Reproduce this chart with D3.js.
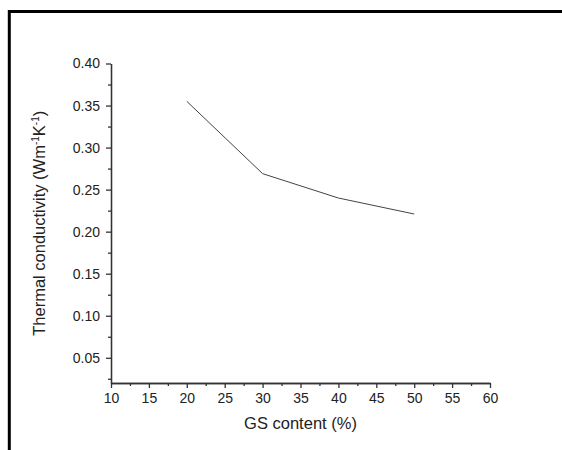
<!DOCTYPE html>
<meta charset="utf-8">
<script src="https://d3js.org/d3.v7.min.js"></script>
<style>
  body { margin: 0; background: #fff; }
  text { font-family: "Liberation Sans", Arial, sans-serif; fill: #222; }
</style>
<div id="my_dataviz"></div>
<script>
    // data
    var gsContent = [20, 30, 40, 50];
    var conductivity = [0.355, 0.269, 0.240, 0.221];
    var xTicks = [10, 15, 20, 25, 30, 35, 40, 45, 50, 55, 60];
    var yTicks = [0.05, 0.10, 0.15, 0.20, 0.25, 0.30, 0.35, 0.40];

    var W = 562, H = 450;
    var margin = { top: 63.5, left: 111, right: 72, bottom: 67 };
    var width = W - margin.left - margin.right,
        height = H - margin.top - margin.bottom;

    var root = d3.select("#my_dataviz")
        .append("svg")
        .attr("width", W)
        .attr("height", H);

    // outer frame (clipped at right and bottom)
    root.append("rect")
        .attr("x", 9.3).attr("y", 11.5)
        .attr("width", 700).attr("height", 600)
        .attr("fill", "none")
        .attr("stroke", "#000")
        .attr("stroke-width", 3);

    var svg = root.append("g")
        .attr("transform", "translate(" + margin.left + "," + margin.top + ")");

    var x = d3.scaleLinear().domain([10, 60]).range([0, width]);
    var y = d3.scaleLinear().domain([0.02, 0.40]).range([height, 0]);

    // minor ticks
    var xMinor = xTicks.slice(0, -1).map(function (d) { return d + 2.5; });
    var yMinor = [0.025].concat(yTicks.slice(0, -1).map(function (d) { return d + 0.025; }));

    svg.append("g")
        .attr("transform", "translate(0," + height + ")")
        .call(d3.axisBottom(x).tickValues(xMinor).tickSize(3).tickFormat("").tickSizeOuter(0));
    svg.append("g")
        .attr("transform", "translate(0," + height + ")")
        .call(d3.axisBottom(x).tickValues(xTicks).tickSize(5).tickSizeOuter(0).tickPadding(5)
            .tickFormat(d3.format("d")));

    svg.append("g")
        .call(d3.axisLeft(y).tickValues(yMinor).tickSize(3).tickFormat("").tickSizeOuter(0));
    svg.append("g")
        .call(d3.axisLeft(y).tickValues(yTicks).tickSize(5).tickSizeOuter(0).tickPadding(6)
            .tickFormat(d3.format(".2f")));

    svg.selectAll(".domain").attr("stroke", "#333").attr("stroke-width", 1.3);
    svg.selectAll(".tick line").attr("stroke", "#333").attr("stroke-width", 1.3);
    svg.selectAll(".tick text")
        .style("font-family", "'Liberation Sans', Arial, sans-serif")
        .style("font-size", "14px")
        .attr("fill", "#222");

    // line
    var pts = gsContent.map(function (d, i) { return [d, conductivity[i]]; });
    svg.append("path")
        .datum(pts)
        .attr("fill", "none")
        .attr("stroke", "#444")
        .attr("stroke-width", 1)
        .attr("d", d3.line()
            .x(function (d) { return x(d[0]); })
            .y(function (d) { return y(d[1]); }));

    // axis titles
    svg.append("text")
        .attr("x", width / 2)
        .attr("y", height + 46)
        .attr("text-anchor", "middle")
        .style("font-size", "16.5px")
        .text("GS content (%)");

    var yt = svg.append("text")
        .attr("transform", "translate(" + (-66) + "," + (height / 2) + ")rotate(-90)")
        .attr("text-anchor", "middle")
        .style("font-size", "16.5px");
    yt.append("tspan").text("Thermal conductivity (Wm");
    yt.append("tspan").attr("dy", -6).style("font-size", "10px").text("-1");
    yt.append("tspan").attr("dy", 6).text("K");
    yt.append("tspan").attr("dy", -6).style("font-size", "10px").text("-1");
    yt.append("tspan").attr("dy", 6).text(")");
</script>
